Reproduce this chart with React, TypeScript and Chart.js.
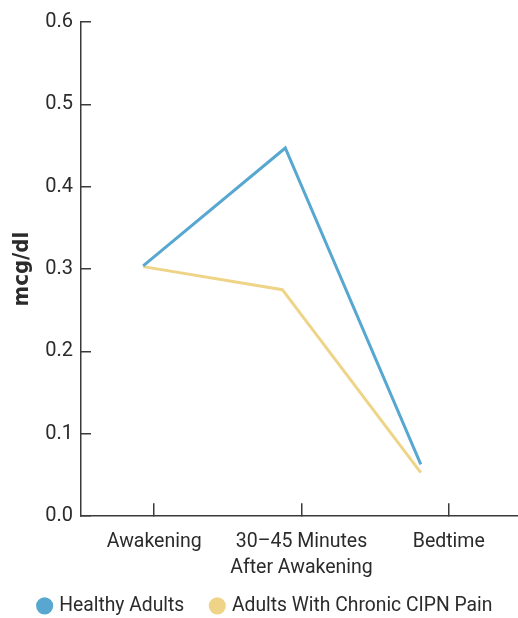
import React, { useEffect, useRef } from "react";
import { Chart, registerables } from "chart.js";

Chart.register(...registerables);

const categories: string[][] = [["Awakening"], ["30–45 Minutes", "After Awakening"], ["Bedtime"]];
const healthyX = [-0.075, 0.89, 1.81];
const healthyY = [0.304, 0.447, 0.063];
const cipnX = [-0.075, 0.87, 1.81];
const cipnY = [0.303, 0.275, 0.053];
const yTicks = [0, 0.1, 0.2, 0.3, 0.4, 0.5, 0.6];

const FONT = "Roboto, 'Liberation Sans', sans-serif";
const TEXT = "#2b2b2b";
const AXIS = "#3a3a3a";

const legendShift = {
  id: "legendShift",
  afterLayout(chart: any) {
    if (chart.legend) {
      chart.legend.left += 7;
      chart.legend.right += 7;
    }
  },
};

export default function App() {
  const ref = useRef<HTMLCanvasElement | null>(null);
  useEffect(() => {
    document.body.style.margin = "0";
    const ctx = ref.current!;
    const chart = new Chart(ctx, {
      type: "line",
      data: {
        datasets: [
          {
            label: "Healthy Adults",
            data: healthyX.map((x, i) => ({ x, y: healthyY[i] })),
            borderColor: "#57a7d1",
            backgroundColor: "#57a7d1",
            borderWidth: 3,
            pointRadius: 0,
            tension: 0,
          },
          {
            label: "Adults With Chronic CIPN Pain",
            data: cipnX.map((x, i) => ({ x, y: cipnY[i] })),
            borderColor: "#efd488",
            backgroundColor: "#efd488",
            borderWidth: 3,
            pointRadius: 0,
            tension: 0,
          },
        ],
      },
      plugins: [legendShift],
      options: {
        animation: false,
        responsive: true,
        maintainAspectRatio: false,
        layout: { padding: { top: 22, right: 0, left: 0, bottom: -7.5 } },
        plugins: {
          tooltip: { enabled: false },
          legend: {
            position: "bottom",
            labels: {
              usePointStyle: true,
              pointStyle: "circle",
              boxWidth: 10,
              boxHeight: 10,
              padding: 28,
              color: TEXT,
              font: { family: FONT, size: 19.3 },
            },
          },
        },
        scales: {
          x: {
            type: "linear",
            min: -0.497,
            max: 2.47,
            afterBuildTicks: (s: any) => {
              s.ticks = categories.map((_, i) => ({ value: i }));
            },
            afterFit: (s: any) => {
              s.height = 52;
              s._computeLabelArea = () => undefined;
            },
            ticks: {
              autoSkip: false,
              maxRotation: 0,
              padding: 25,
              color: TEXT,
              font: { family: FONT, size: 19.5, lineHeight: 1.38 },
              callback: (v: any) => categories[Math.round(Number(v))],
            },
            grid: { drawOnChartArea: false, tickLength: -13, color: AXIS, lineWidth: 1.5 },
            border: { color: AXIS, width: 1.5 },
          },
          y: {
            min: 0,
            max: 0.6,
            afterBuildTicks: (s: any) => {
              s.ticks = yTicks.map((v) => ({ value: v }));
            },
            afterFit: (s: any) => {
              s.width = 81;
              s.paddingTop = 0;
              s.paddingBottom = 0;
            },
            title: {
              display: true,
              text: "mcg/dl",
              color: TEXT,
              font: { family: "'DejaVu Sans Condensed', 'DejaVu Sans', sans-serif", size: 22, weight: "bold" },
              padding: { top: 9, bottom: 0 },
            },
            ticks: {
              padding: 18,
              color: TEXT,
              font: { family: FONT, size: 20 },
              callback: (v: any) => Number(v).toFixed(1),
            },
            grid: { drawOnChartArea: false, tickLength: -10, color: AXIS, lineWidth: 1.5 },
            border: { color: AXIS, width: 1.5 },
          },
        },
      },
    } as any);
    return () => chart.destroy();
  }, []);
  return (
    <div style={{ width: 518, height: 618, position: "relative" }}>
      <canvas ref={ref} />
    </div>
  );
}
